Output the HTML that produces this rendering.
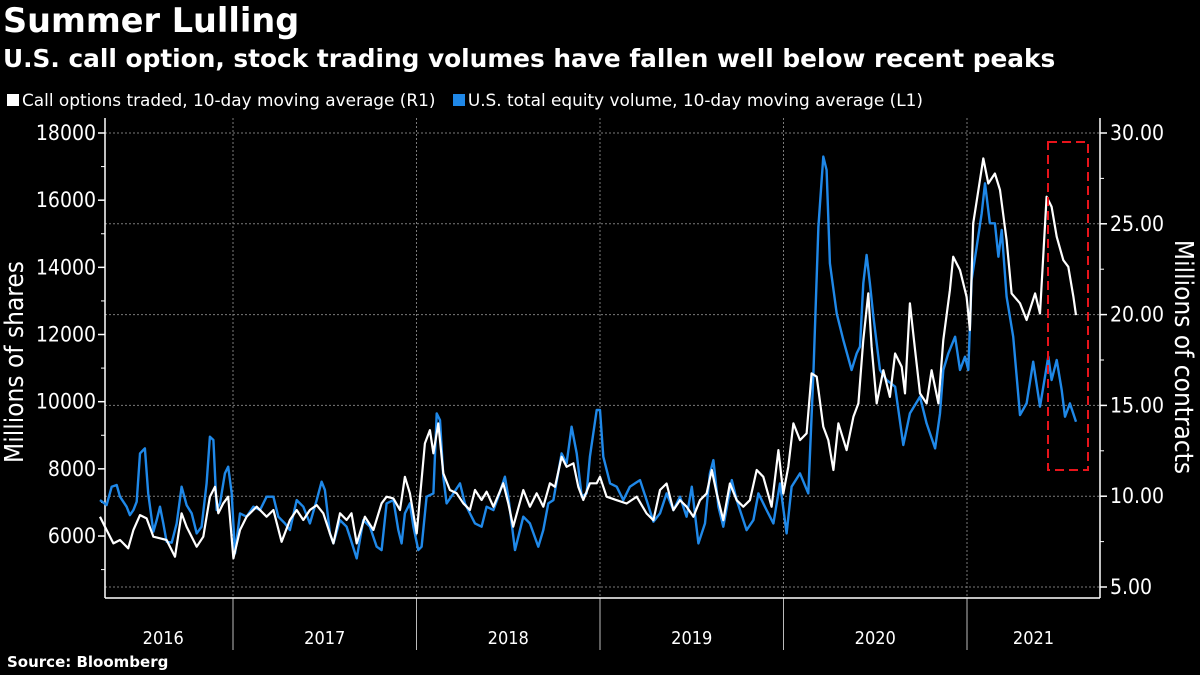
<!DOCTYPE html>
<html><head><meta charset="utf-8">
<style>
html,body{margin:0;padding:0;background:#000;}
body{width:1200px;height:675px;overflow:hidden;position:relative;font-family:"DejaVu Sans","Liberation Sans",sans-serif;color:#fff;}
.t{position:absolute;white-space:nowrap;}
</style></head>
<body>
<div class="t" style="left:3px;top:1px;font-size:33.5px;font-weight:bold;">Summer Lulling</div>
<div class="t" style="left:3px;top:44px;font-size:24.8px;font-weight:bold;">U.S. call option, stock trading volumes have fallen well below recent peaks</div>
<div class="t" style="left:7px;top:90px;font-size:16.9px;">
<span><span style="display:inline-block;width:12px;height:12px;background:#fff;margin-right:3px;"></span>Call options traded, 10-day moving average (R1)</span>
<span style="margin-left:12px;"><span style="display:inline-block;width:12px;height:12px;background:#1f88e8;margin-right:3px;"></span>U.S. total equity volume, 10-day moving average (L1)</span>
</div>
<div class="t" style="left:7px;top:653px;font-size:15px;font-weight:bold;">Source: Bloomberg</div>
<svg id="chart" width="1200" height="675" style="position:absolute;left:0;top:0;" xmlns="http://www.w3.org/2000/svg"></svg>
<script>
const blueT=[2016.275,2016.311,2016.339,2016.366,2016.384,2016.420,2016.438,2016.457,2016.475,2016.493,2016.511,2016.520,2016.538,2016.566,2016.584,2016.602,2016.620,2016.638,2016.666,2016.693,2016.720,2016.747,2016.775,2016.802,2016.829,2016.856,2016.874,2016.893,2016.911,2016.929,2016.956,2016.974,2016.993,2017.011,2017.038,2017.074,2017.111,2017.147,2017.183,2017.220,2017.247,2017.283,2017.310,2017.347,2017.383,2017.419,2017.456,2017.483,2017.501,2017.528,2017.547,2017.583,2017.619,2017.637,2017.674,2017.710,2017.746,2017.783,2017.810,2017.837,2017.874,2017.901,2017.919,2017.937,2017.964,2017.983,2018.010,2018.028,2018.055,2018.092,2018.110,2018.128,2018.146,2018.164,2018.201,2018.237,2018.264,2018.291,2018.319,2018.355,2018.382,2018.419,2018.446,2018.482,2018.500,2018.537,2018.582,2018.618,2018.664,2018.691,2018.718,2018.746,2018.791,2018.818,2018.845,2018.873,2018.900,2018.927,2018.945,2018.982,2019.000,2019.018,2019.055,2019.091,2019.127,2019.163,2019.218,2019.254,2019.291,2019.327,2019.363,2019.400,2019.436,2019.472,2019.500,2019.536,2019.572,2019.599,2019.618,2019.645,2019.672,2019.718,2019.745,2019.799,2019.836,2019.863,2019.908,2019.945,2019.981,2020.017,2020.044,2020.090,2020.135,2020.163,2020.190,2020.217,2020.235,2020.253,2020.290,2020.326,2020.371,2020.399,2020.417,2020.435,2020.453,2020.471,2020.490,2020.526,2020.562,2020.608,2020.653,2020.689,2020.744,2020.780,2020.826,2020.853,2020.871,2020.898,2020.935,2020.962,2020.989,2021.007,2021.025,2021.053,2021.080,2021.098,2021.125,2021.152,2021.171,2021.189,2021.216,2021.252,2021.289,2021.325,2021.361,2021.398,2021.443,2021.461,2021.489,2021.516,2021.534,2021.561,2021.594];
const blueV=[7071,6922,7468,7518,7170,6872,6624,6773,7021,8461,8560,8610,7269,6128,6475,6872,6376,5830,5800,6376,7468,6922,6674,6078,6277,7567,8957,8858,6773,6972,7865,8064,7269,5483,6674,6575,6872,6773,7170,7170,6575,6376,6178,7071,6872,6376,7071,7617,7369,6078,5780,6475,6277,5979,5334,6475,6277,5681,5582,6972,7071,6178,5780,6674,6972,6277,5582,5681,7170,7269,9652,9453,7766,6972,7269,7567,6972,6674,6376,6277,6872,6773,7170,7766,7170,5582,6575,6376,5681,6178,6972,7071,8461,8163,9255,8461,7170,7269,8362,9751,9751,8361,7567,7468,7071,7468,7666,7071,6426,6674,7270,6773,7170,6574,7468,5780,6376,7865,8262,6872,6277,7666,7071,6177,6475,7270,6773,6376,7567,6078,7468,7865,7270,10843,15211,17296,16899,14119,12630,11836,10942,11439,11637,13521,14367,13523,12531,10942,10645,10446,8709,9652,10148,9354,8610,9652,10942,11439,11935,10942,11340,10942,13623,14615,15608,16501,15310,15310,14318,15112,13126,11935,9602,9950,11191,9850,11340,10645,11240,10347,9553,9950,9404];
const whiteT=[2016.275,2016.311,2016.348,2016.384,2016.429,2016.457,2016.493,2016.529,2016.566,2016.602,2016.638,2016.684,2016.720,2016.747,2016.802,2016.838,2016.874,2016.902,2016.920,2016.947,2016.974,2017.002,2017.038,2017.074,2017.129,2017.183,2017.220,2017.265,2017.310,2017.347,2017.383,2017.419,2017.456,2017.492,2017.528,2017.547,2017.583,2017.619,2017.646,2017.674,2017.719,2017.765,2017.810,2017.837,2017.874,2017.910,2017.937,2017.964,2018.001,2018.046,2018.073,2018.092,2018.119,2018.146,2018.182,2018.219,2018.255,2018.291,2018.319,2018.355,2018.382,2018.419,2018.473,2018.500,2018.527,2018.582,2018.618,2018.655,2018.691,2018.727,2018.755,2018.791,2018.818,2018.855,2018.882,2018.909,2018.945,2018.982,2019.000,2019.036,2019.091,2019.145,2019.200,2019.254,2019.291,2019.327,2019.363,2019.400,2019.436,2019.472,2019.509,2019.545,2019.581,2019.609,2019.636,2019.672,2019.708,2019.745,2019.781,2019.817,2019.854,2019.890,2019.935,2019.972,2019.999,2020.026,2020.054,2020.090,2020.126,2020.153,2020.181,2020.217,2020.244,2020.272,2020.299,2020.344,2020.381,2020.408,2020.435,2020.462,2020.480,2020.508,2020.544,2020.580,2020.608,2020.644,2020.662,2020.689,2020.717,2020.744,2020.780,2020.807,2020.844,2020.871,2020.907,2020.925,2020.962,2020.998,2021.016,2021.034,2021.062,2021.089,2021.116,2021.152,2021.180,2021.216,2021.243,2021.289,2021.325,2021.371,2021.398,2021.434,2021.461,2021.489,2021.525,2021.552,2021.580,2021.594];
const whiteV=[8.87,8.14,7.40,7.59,7.13,8.14,8.96,8.78,7.77,7.68,7.59,6.67,9.06,8.32,7.22,7.77,9.97,10.52,9.06,9.61,9.97,6.58,8.14,8.87,9.42,8.87,9.24,7.49,8.69,9.24,8.69,9.24,9.51,9.06,7.95,7.40,9.06,8.69,9.06,7.40,8.87,8.14,9.61,9.97,9.88,9.24,11.07,10.16,7.95,12.91,13.64,12.36,14.01,11.26,10.34,10.16,9.61,9.24,10.34,9.79,10.25,9.42,10.71,9.61,8.32,10.34,9.42,10.16,9.42,10.71,10.52,12.17,11.62,11.81,10.52,9.79,10.71,10.71,11.07,9.97,9.78,9.60,9.97,9.05,8.68,10.34,10.70,9.23,9.78,9.42,8.87,9.78,10.15,11.44,10.15,8.68,10.70,9.78,9.42,9.78,11.44,11.07,9.42,12.54,10.15,11.62,14.01,13.09,13.46,16.76,16.58,13.82,13.09,11.44,14.01,12.54,14.37,15.11,18.60,21.17,18.23,15.11,16.94,15.47,17.86,17.13,15.66,20.62,18.04,15.66,15.11,16.94,15.11,18.60,21.35,23.19,22.45,20.98,19.15,25.02,26.86,28.60,27.22,27.77,26.86,24.10,21.17,20.62,19.70,21.17,20.06,26.49,25.94,24.29,23.00,22.63,20.98,19.97];
const leftTicks=[6000,8000,10000,12000,14000,16000,18000];
const rightTicks=[5,10,15,20,25,30];
const yearLabels=["2016","2017","2018","2019","2020","2021"];
const yearStarts=[2016,2017,2018,2019,2020,2021,2022];

const NS="http://www.w3.org/2000/svg";
const svg=document.getElementById('chart');
const X0=105,X1=1100,Y0=118,Y1=598;
const FF='DejaVu Sans Condensed,DejaVu Sans,sans-serif';
const xS=t=>49.5+(t-2016)*183.5;
const yL=v=>133+(18000-v)/2000*67.17;
const yR=v=>133+(30-v)/5*90.8;
function mk(tag,attrs){const e=document.createElementNS(NS,tag);for(const k in attrs)e.setAttribute(k,attrs[k]);svg.appendChild(e);return e;}

rightTicks.forEach(v=>{
  const g=mk('line',{x1:X0,x2:X1,y1:yR(v),y2:yR(v),stroke:'#7a7a7a','stroke-width':1,'stroke-dasharray':'2,2'});
  
  
  const tk=mk('line',{x1:X1,x2:X1+7,y1:yR(v),y2:yR(v),stroke:'#fff','stroke-width':1.5});
  
  
  const lb=mk('text',{x:X1+10,y:yR(v)+7,fill:'#fff','font-size':21,'font-family':FF});
  lb.textContent=v.toFixed(2);
  
  
});
for(let v=5;v<=30;v+=2.5){const m=mk('line',{x1:X1,x2:X1+4,y1:yR(v),y2:yR(v),stroke:'#fff','stroke-width':1});

}
leftTicks.forEach(v=>{
  const tk=mk('line',{x1:X0-7,x2:X0,y1:yL(v),y2:yL(v),stroke:'#fff','stroke-width':1.5});
  
  
  const lb=mk('text',{x:X0-9,y:yL(v)+7,fill:'#fff','font-size':21,'text-anchor':'end','font-family':FF});
  lb.textContent=v;
  
  
});
for(let v=5000;v<=17000;v+=2000){const m=mk('line',{x1:X0-4,x2:X0,y1:yL(v),y2:yL(v),stroke:'#fff','stroke-width':1});

}
yearStarts.forEach(y=>{
  const x=xS(y);
  if(x>X0&&x<X1){
    const g=mk('line',{x1:x,x2:x,y1:Y0,y2:Y1,stroke:'#7a7a7a','stroke-width':1,'stroke-dasharray':'2,2'});
    
    
    const s=mk('line',{x1:x,x2:x,y1:Y1,y2:650,stroke:'#bbb','stroke-width':1});
    
    
  }
});
yearLabels.forEach((lab,i)=>{
  const a=Math.max(xS(yearStarts[i]),X0),b=Math.min(xS(yearStarts[i+1]),X1);
  const x=i===0?xS(2016.62):(a+b)/2;
  const t=mk('text',{x:x,y:644,fill:'#fff','font-size':18,'text-anchor':'middle','font-family':FF});
  t.textContent=lab;
  
  
});
const ax1=mk('line',{x1:X0,x2:X0,y1:Y0,y2:Y1,stroke:'#fff','stroke-width':1.5});


const ax2=mk('line',{x1:X1,x2:X1,y1:Y0,y2:Y1,stroke:'#fff','stroke-width':1.5});


const ax3=mk('line',{x1:X0,x2:X1,y1:Y1,y2:Y1,stroke:'#fff','stroke-width':1.5});


const lt=mk('text',{x:0,y:0,fill:'#fff','font-size':26,'text-anchor':'middle','transform':'translate(23,362) rotate(-90)','font-family':FF});
lt.textContent='Millions of shares';


const rt=mk('text',{x:0,y:0,fill:'#fff','font-size':26,'text-anchor':'middle','transform':'translate(1175,357) rotate(90)','font-family':FF});
rt.textContent='Millions of contracts';


const bp=mk('polyline',{points:blueT.map((t,i)=>xS(t).toFixed(1)+','+yL(blueV[i]).toFixed(1)).join(' '),fill:'none',stroke:'#1f88e8','stroke-width':2.4,'stroke-linejoin':'round'});


const wp=mk('polyline',{points:whiteT.map((t,i)=>xS(t).toFixed(1)+','+yR(whiteV[i]).toFixed(1)).join(' '),fill:'none',stroke:'#fff','stroke-width':2.2,'stroke-linejoin':'round'});


const hb=mk('rect',{x:1048,y:142,width:40,height:328,fill:'none',stroke:'#e8141b','stroke-width':2,'stroke-dasharray':'9,5'});


</script>
</body></html>
